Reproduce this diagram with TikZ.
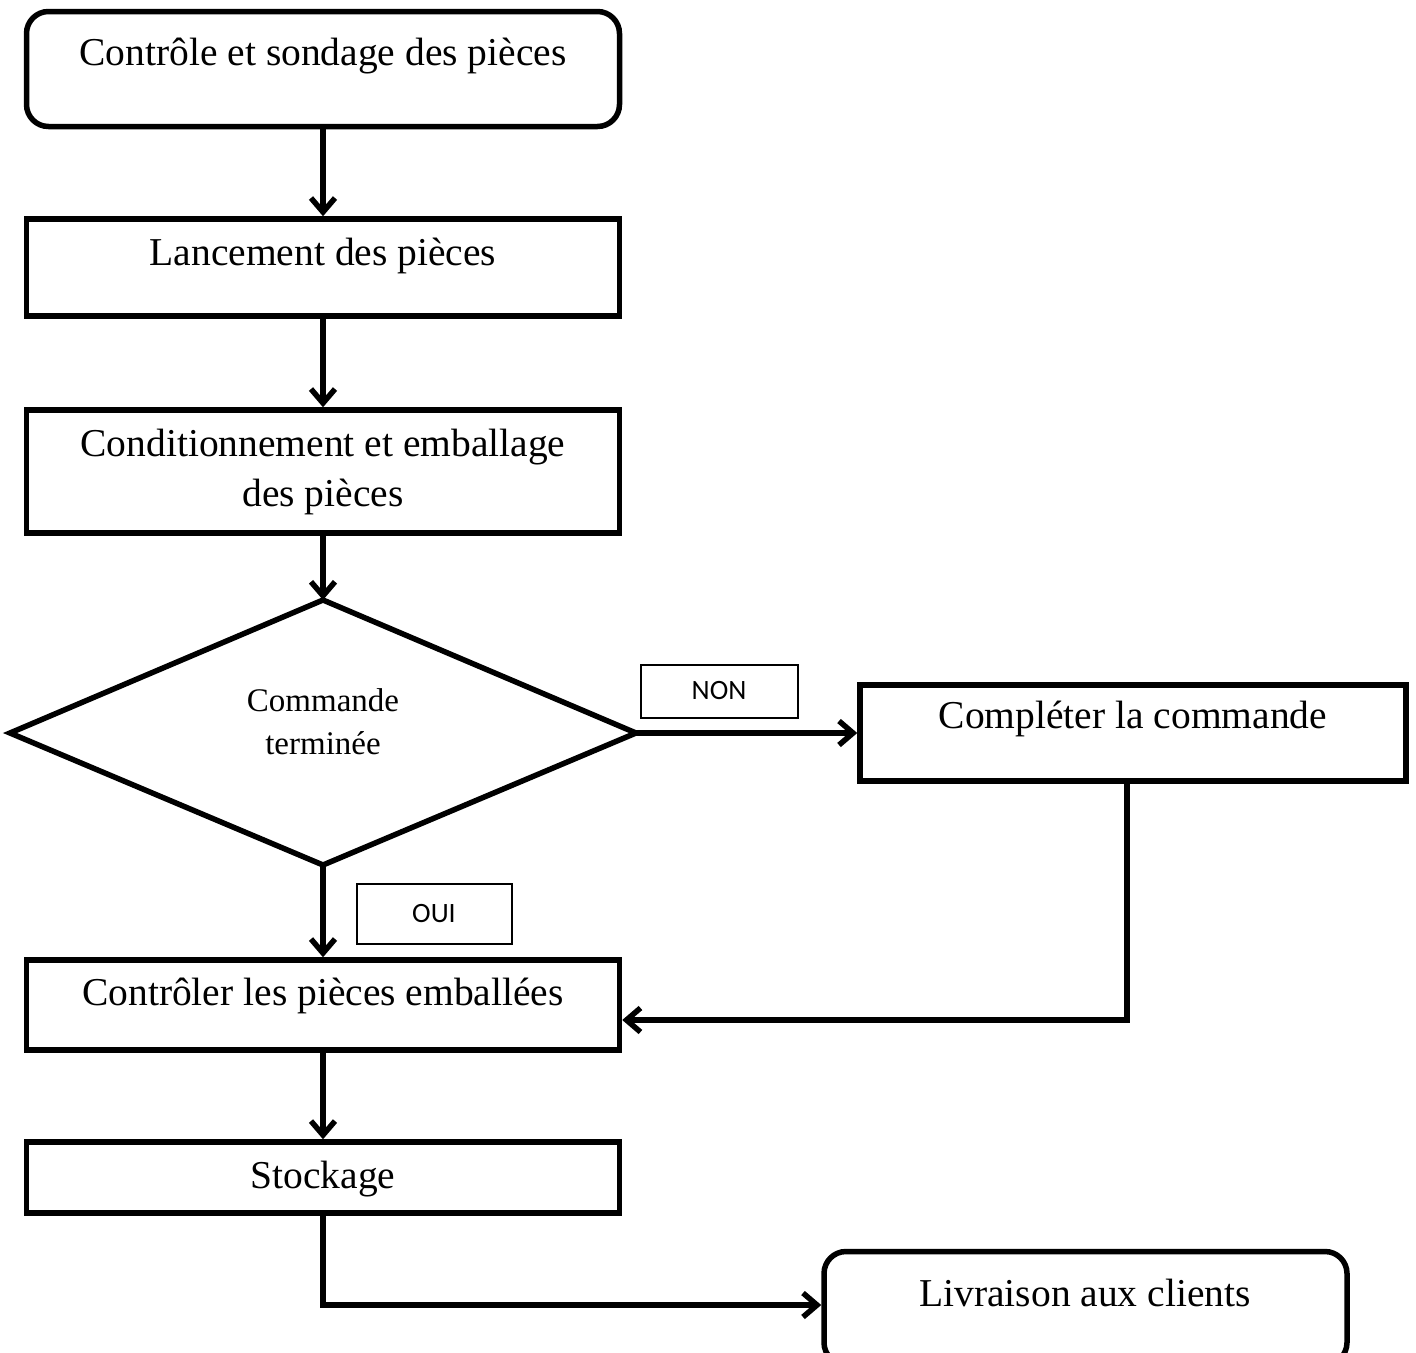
\documentclass[tikz,border=0pt]{standalone}
\usepackage{fontspec}
\setmainfont{Liberation Serif}
\newfontfamily\labelfont{Carlito}
\usetikzlibrary{arrows.meta,calc}

\tikzset{
  stepbox/.style={draw, line width=5.5pt, inner sep=0pt, fill=none},
  roundbox/.style={stepbox, rounded corners=22pt},
  steptext/.style={inner sep=0pt, align=center,
    font=\fontsize{39.5}{50}\selectfont},
  smalltext/.style={inner sep=0pt, align=center,
    font=\fontsize{33}{43}\selectfont},
  tagbox/.style={draw, line width=2pt, inner sep=0pt,
    font=\labelfont\fontsize{28}{32}\selectfont},
  flow/.style={line width=5.5pt, -{Straight Barb[length=14pt,width=24pt,line width=5.5pt]}},
  link/.style={line width=5.5pt},
}

\begin{document}
\begin{tikzpicture}[x=1pt,y=-1pt]
\useasboundingbox (0,0) rectangle (1416,1352);

% process steps
\node[roundbox, minimum width=593pt, minimum height=115pt] (b1) at (323,69) {};
\node[steptext] (t1) at (323,56) {Contrôle et sondage des pièces};

\node[stepbox, minimum width=593pt, minimum height=97pt] (b2) at (323,267.5) {};
\node[steptext] (t2) at (323,256) {Lancement des pièces};

\node[stepbox, minimum width=593pt, minimum height=123pt] (b3) at (323,471.5) {};
\node[steptext] (t3) at (323,472) {Conditionnement et emballage\\des pièces};

% decision
\coordinate (dtop) at (323,600);
\coordinate (dright) at (636,733);
\coordinate (dbot) at (323,865);
\coordinate (dleft) at (10,733);
\draw[line width=5.5pt, line join=miter] (dtop) -- (dright) -- (dbot) -- (dleft) -- cycle;
\node[smalltext] (td) at (323,722) {Commande\\terminée};

\node[stepbox, minimum width=546pt, minimum height=96pt] (b4) at (1133,733) {};
\node[steptext] (t4) at (1133,719) {Compléter la commande};

\node[stepbox, minimum width=593pt, minimum height=90pt] (b5) at (323,1005) {};
\node[steptext] (t5) at (323,996) {Contrôler les pièces emballées};

\node[stepbox, minimum width=593pt, minimum height=71pt] (b6) at (323,1177.5) {};
\node[steptext] (t6) at (323,1179) {Stockage};

\node[roundbox, minimum width=523pt, minimum height=113pt] (b7) at (1085.5,1308) {};
\node[steptext] (t7) at (1085,1293) {Livraison aux clients};

% branch tags
\node[tagbox, minimum width=157pt, minimum height=53pt] (non) at (719,691) {NON};
\node[tagbox, minimum width=155pt, minimum height=60pt] (oui) at (434,913.5) {OUI};

% connectors
\draw[flow] (b1.south) -- (b2.north);
\draw[flow] (b2.south) -- (b3.north);
\draw[flow] (b3.south -| dtop) -- (dtop);
\draw[flow] (dright) -- (dright -| b4.west);
\draw[flow] (dbot) -- (b5.north);
\draw[flow] (b5.south) -- (b6.north);

\coordinate (k1) at (1127,1020);
\draw[link, line cap=rect] (b4.south -| k1) -- (k1);
\draw[flow] (k1) -- (k1 -| b5.east);

\coordinate (k2) at (323,1305);
\draw[link, line cap=rect] (b6.south) -- (k2);
\draw[flow] (k2) -- (k2 -| b7.west);
\end{tikzpicture}
\end{document}
